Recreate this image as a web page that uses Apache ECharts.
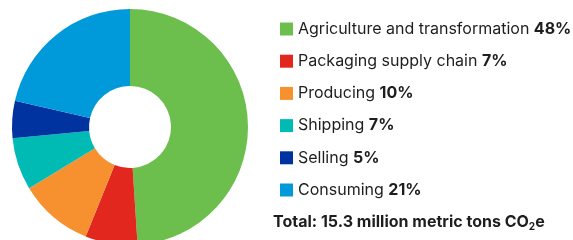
<!DOCTYPE html>
<html><head><meta charset="utf-8">
<script src="https://cdn.jsdelivr.net/npm/echarts@6/dist/echarts.min.js"></script>
<style>html,body{margin:0;padding:0;background:#fff}#c{width:573px;height:240px}</style>
</head><body><div id="c"></div>
<script>
const categories = ['Agriculture and transformation', 'Packaging supply chain', 'Producing', 'Shipping', 'Selling', 'Consuming'];
const values = [48, 7, 10, 7, 5, 21];
const colors = ['#6CBF4C', '#E2271E', '#F7902F', '#00BBB4', '#0033A0', '#009ADA'];
const totalLabel = 'Total: 15.3 million metric tons CO';

const chart = echarts.init(document.getElementById('c'), null, {renderer: 'canvas'});
const font = 'Inter';
chart.setOption({
  animation: false,
  color: colors,
  legend: {
    orient: 'vertical',
    left: 275,
    top: 16,
    icon: 'rect',
    itemWidth: 13,
    itemHeight: 13,
    itemGap: 16.2,
    selectedMode: false,
    data: categories,
    formatter: function (name) {
      const i = categories.indexOf(name);
      return name + ' {b|' + values[i] + '%}';
    },
    textStyle: {
      fontFamily: font, fontSize: 16, color: '#1e1e1e', lineHeight: 16, padding: [0, 0, 0, 0],
      rich: { b: { fontFamily: font, fontSize: 16, fontWeight: 'bold', color: '#1e1e1e', lineHeight: 16 } }
    }
  },
  graphic: [{
    type: 'text',
    left: 273,
    top: 213,
    style: {
      text: '{t|' + totalLabel + '}{s|2}{t|e}',
      rich: {
        t: { fontFamily: font, fontSize: 16, fontWeight: 'bold', fill: '#1e1e1e', lineHeight: 20 },
        s: { fontFamily: font, fontSize: 10, fontWeight: 'bold', fill: '#1e1e1e', lineHeight: 20, padding: [9, 0, 0, 0] }
      }
    }
  }],
  series: [{
    type: 'pie',
    center: [130, 127],
    radius: [41, 118],
    startAngle: 90,
    clockwise: true,
    label: { show: false },
    labelLine: { show: false },
    emphasis: { disabled: true },
    itemStyle: { borderWidth: 0 },
    data: categories.map((n, i) => ({ name: n, value: values[i] }))
  }]
});
</script></body></html>
